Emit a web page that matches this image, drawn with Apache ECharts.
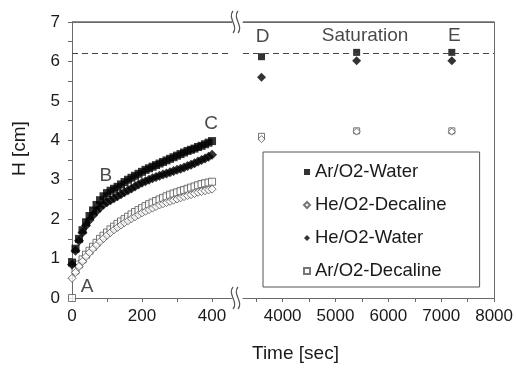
<!DOCTYPE html>
<html>
<head>
<meta charset="utf-8">
<script src="https://cdn.jsdelivr.net/npm/echarts@6/dist/echarts.min.js"></script>
<style>
  html, body { margin: 0; padding: 0; background: #fff; }
  #chart { width: 516px; height: 368px; }
</style>
</head>
<body>
<div id="chart"></div>
<script>
// transient part, 0-400 s every 10 s
const time = [0, 10, 20, 30, 40, 50, 60, 70, 80, 90, 100, 110, 120, 130, 140, 150, 160, 170, 180, 190, 200,
  210, 220, 230, 240, 250, 260, 270, 280, 290, 300, 310, 320, 330, 340, 350, 360, 370, 380, 390, 400];
const arWater = [0.9, 1.25, 1.5, 1.72, 1.92, 2.08, 2.22, 2.36, 2.48, 2.58, 2.66, 2.72, 2.77, 2.82, 2.88, 2.94, 3.0, 3.05, 3.1, 3.15, 3.2,
  3.25, 3.29, 3.33, 3.37, 3.41, 3.45, 3.49, 3.53, 3.57, 3.61, 3.65, 3.69, 3.73, 3.76, 3.79, 3.83, 3.86, 3.9, 3.94, 3.98];
const heWater = [0.85, 1.2, 1.45, 1.66, 1.84, 1.98, 2.1, 2.2, 2.29, 2.37, 2.43, 2.48, 2.53, 2.58, 2.63, 2.68, 2.73, 2.78, 2.83, 2.88, 2.92,
  2.96, 3.0, 3.04, 3.07, 3.1, 3.13, 3.16, 3.19, 3.22, 3.25, 3.28, 3.31, 3.35, 3.38, 3.42, 3.46, 3.5, 3.54, 3.58, 3.63];
const arDecaline = [0, 0.7, 0.85, 0.98, 1.1, 1.2, 1.3, 1.4, 1.5, 1.58, 1.66, 1.74, 1.81, 1.88, 1.94, 2.0, 2.06, 2.12, 2.18, 2.23, 2.28,
  2.33, 2.38, 2.42, 2.46, 2.5, 2.54, 2.58, 2.62, 2.65, 2.68, 2.71, 2.74, 2.77, 2.8, 2.83, 2.86, 2.89, 2.91, 2.93, 2.95];
const heDecaline = [0.5, 0.65, 0.8, 0.93, 1.05, 1.15, 1.25, 1.34, 1.43, 1.51, 1.59, 1.66, 1.73, 1.79, 1.85, 1.91, 1.96, 2.01, 2.06, 2.11, 2.16,
  2.2, 2.24, 2.28, 2.32, 2.36, 2.39, 2.42, 2.45, 2.48, 2.51, 2.54, 2.57, 2.6, 2.62, 2.65, 2.68, 2.7, 2.72, 2.74, 2.76];

// saturation part
const satTime = [3600, 5400, 7200];
const arWaterSat = [6.12, 6.23, 6.23];
const heWaterSat = [5.6, 6.02, 6.02];
const heDecalineSat = [4.03, 4.22, 4.22];
const arDecalineSat = [4.1, 4.24, 4.24];

const saturationLevel = 6.2;
const hMax = 7;

// tick labels
const leftXLabels = [0, 200, 400];
const leftXTicks = [0, 100, 200, 300, 400];
const rightXLabels = [4000, 5000, 6000, 7000, 8000];
const rightXTicks = [3500, 4000, 4500, 5000, 5500, 6000, 6500, 7000, 7500, 8000];

// letter annotations [text, time, H]
const leftNotes = [['A', 43, 0.28], ['B', 97, 3.1], ['C', 397, 4.42]];
const rightNotes = [['D', 3620, 6.62], ['Saturation', 5560, 6.66], ['E', 7250, 6.66]];

const FONT = 'Liberation Sans, Arial, sans-serif';
const AXIS = '#6a6a6a';
const TEXT = '#1a1a1a';

const styles = {
  'Ar/O2-Water': { symbol: 'rect', symbolSize: 8, itemStyle: { color: '#000' } },
  'He/O2-Decaline': { symbol: 'diamond', symbolSize: 8, itemStyle: { color: '#fff', borderColor: '#555', borderWidth: 1 } },
  'He/O2-Water': { symbol: 'diamond', symbolSize: 10, itemStyle: { color: '#000' } },
  'Ar/O2-Decaline': { symbol: 'rect', symbolSize: 7, itemStyle: { color: '#fff', borderColor: '#555', borderWidth: 1 } }
};

const pair = (xs, ys) => xs.map((x, i) => [x, ys[i]]);

const leftSets = { 'Ar/O2-Decaline': arDecaline, 'He/O2-Decaline': heDecaline, 'He/O2-Water': heWater, 'Ar/O2-Water': arWater };
const rightSets = { 'Ar/O2-Decaline': arDecalineSat, 'He/O2-Decaline': heDecalineSat, 'He/O2-Water': heWaterSat, 'Ar/O2-Water': arWaterSat };

// dashed saturation level + solid top frame of the plot box
const refLines = {
  silent: true,
  symbol: 'none',
  label: { show: false },
  emphasis: { disabled: true },
  data: [
    { yAxis: saturationLevel, lineStyle: { color: '#444', width: 1, type: [6, 4] } },
    { yAxis: hMax, lineStyle: { color: AXIS, width: 1.5, type: 'solid' } }
  ]
};

const series = [];
[[leftSets, time, 0], [rightSets, satTime, 1]].forEach(([sets, xs, g]) => {
  Object.keys(sets).forEach(name => {
    const s = {
      name,
      type: 'scatter',
      xAxisIndex: g * 2,
      yAxisIndex: g,
      clip: false,
      data: pair(xs, sets[name]),
      ...styles[name],
      animation: false
    };
    if (g === 1) s.symbolSize = styles[name].symbolSize - 1;
    if (name === 'Ar/O2-Water') s.markLine = refLines;
    series.push(s);
  });
});

// annotations ride on the top x axis of each panel (same scale as the bottom one)
const noteSeries = (notes, g) => ({
  type: 'scatter',
  xAxisIndex: g * 2 + 1,
  yAxisIndex: g,
  symbolSize: 1,
  itemStyle: { color: 'rgba(0,0,0,0)' },
  data: notes.map(n => ({ name: n[0], value: [n[1], n[2]] })),
  label: {
    show: true,
    position: 'inside',
    formatter: p => p.name,
    color: TEXT,
    fontFamily: FONT,
    fontSize: 19
  },
  silent: true,
  animation: false
});
series.push(noteSeries(leftNotes, 0), noteSeries(rightNotes, 1));

const axisLine = { show: true, onZero: false, lineStyle: { color: AXIS, width: 1 } };
const tickLabel = { color: TEXT, fontFamily: FONT, fontSize: 17, formatter: v => String(v) };
const frameAxis = (g, min, max) => ({
  type: 'value', gridIndex: g, position: 'top', min, max,
  axisLine, axisTick: { show: false }, axisLabel: { show: false }, splitLine: { show: false }
});

// axis break mark: two S-curves
const breakMark = (x, y) => [0, 5].map(dx => ({
  type: 'bezierCurve',
  z: 20,
  shape: { x1: x + dx, y1: y - 11, cpx1: x + dx - 6, cpy1: y - 4, cpx2: x + dx + 6, cpy2: y + 4, x2: x + dx, y2: y + 11 },
  style: { fill: null, stroke: '#555', lineWidth: 1.2 }
}));

const option = {
  backgroundColor: '#fff',
  animation: false,
  grid: [
    { left: 72, top: 22, width: 160, height: 276 },
    { left: 243, top: 22, width: 252, height: 276 }
  ],
  xAxis: [
    {
      type: 'value', gridIndex: 0, position: 'bottom', min: 0, max: 457,
      axisLine,
      axisTick: { show: true, length: 4, lineStyle: { color: AXIS }, customValues: leftXTicks },
      axisLabel: { ...tickLabel, margin: 10, customValues: leftXLabels },
      splitLine: { show: false }
    },
    frameAxis(0, 0, 457),
    {
      type: 'value', gridIndex: 1, position: 'bottom', min: 3250, max: 8000,
      axisLine,
      axisTick: { show: true, length: 4, lineStyle: { color: AXIS }, customValues: rightXTicks },
      axisLabel: { ...tickLabel, margin: 10, customValues: rightXLabels },
      splitLine: { show: false }
    },
    frameAxis(1, 3250, 8000)
  ],
  yAxis: [
    {
      type: 'value', gridIndex: 0, min: 0, max: hMax, interval: 1,
      axisLine,
      axisTick: { show: true, length: 4, lineStyle: { color: AXIS } },
      minorTick: { show: true, splitNumber: 2, length: 4, lineStyle: { color: AXIS } },
      axisLabel: { ...tickLabel, margin: 12 },
      splitLine: { show: false }
    },
    {
      type: 'value', gridIndex: 1, min: 0, max: hMax, position: 'right',
      axisLine, axisTick: { show: false }, axisLabel: { show: false }, splitLine: { show: false }
    }
  ],
  legend: {
    orient: 'vertical',
    left: 263,
    top: 152,
    data: ['Ar/O2-Water', 'He/O2-Decaline', 'He/O2-Water', 'Ar/O2-Decaline'],
    itemWidth: 6,
    itemHeight: 6,
    itemGap: 13,
    padding: [10, 33, 6, 40],
    borderColor: '#555',
    borderWidth: 1,
    backgroundColor: '#fff',
    textStyle: { color: TEXT, fontFamily: FONT, fontSize: 18.5, lineHeight: 20 }
  },
  graphic: [
    ...breakMark(233, 22),
    ...breakMark(233, 298),
    {
      type: 'text', left: 252, top: 344,
      style: { text: 'Time [sec]', fill: TEXT, font: '19px ' + FONT }
    },
    {
      type: 'text', x: 10, y: 176, rotation: Math.PI / 2,
      style: { text: 'H [cm]', fill: TEXT, font: '19px ' + FONT }
    }
  ],
  series
};

const chart = echarts.init(document.getElementById('chart'), null, { renderer: 'canvas' });
chart.setOption(option);
</script>
</body>
</html>
